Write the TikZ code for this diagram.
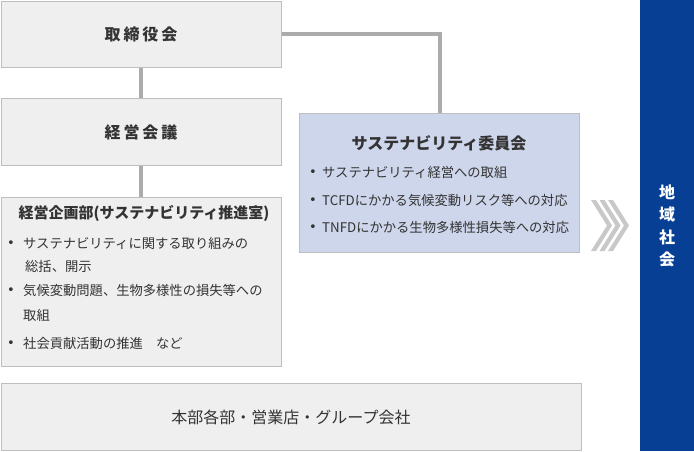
\documentclass[tikz,border=0pt]{standalone}
\usepackage{fontspec}
\usepackage{xcolor}
\setmainfont{Noto Sans CJK JP}
\newfontfamily\jpwide{Noto Sans CJK JP}[LetterSpace=18]
\newfontfamily\dotfont{DejaVu Sans}
\definecolor{boxgray}{HTML}{EFEFEF}
\definecolor{linegray}{HTML}{BEBEBE}
\definecolor{conngray}{HTML}{ABABAB}
\definecolor{commblue}{HTML}{CED6EC}
\definecolor{regionblue}{HTML}{073F95}
\definecolor{chevgray}{HTML}{C8C8C8}
\definecolor{txtgray}{HTML}{333333}

\begin{document}
\begin{tikzpicture}[x=1pt,y=-1pt,
    orgbox/.style={draw=linegray, fill=boxgray, line width=1pt, anchor=north west, inner sep=0pt, text=txtgray},
    conn/.style={draw=conngray, line width=4pt},
    item/.style={anchor=west, inner sep=0pt, text=txtgray, font=\fontsize{13.3}{16}\selectfont},
    dot/.style={anchor=center, inner sep=0pt, text=txtgray, font=\dotfont\fontsize{13}{13}\selectfont}]
\useasboundingbox (0,0) rectangle (694,451);

% boxes
\node [orgbox, minimum width=280pt, minimum height=66.5pt, font=\jpwide\bfseries\fontsize{16}{18}\selectfont] (board) at (0.5,0.5) {取締役会};
\node [orgbox, minimum width=280pt, minimum height=67pt, font=\jpwide\bfseries\fontsize{16}{18}\selectfont] (mgmt) at (0.5,98) {経営会議};
\node [orgbox, minimum width=280pt, minimum height=169.5pt] (plan) at (0.5,196.5) {};
\node [orgbox, fill=commblue, minimum width=280pt, minimum height=139pt] (comm) at (299,113) {};
\node [orgbox, minimum width=580pt, minimum height=67pt, font=\fontsize{16}{18}\selectfont] (group) at (0.5,383) {本部各部・営業店・グループ会社};
\node [anchor=north west, fill=regionblue, inner sep=0pt, minimum width=54pt, minimum height=451pt] (region) at (640,0) {};
\node [text=white, align=center, font=\bfseries\fontsize{16}{22.5}\selectfont] (regiontxt) at (region.center) {地\\域\\社\\会};

% connectors
\draw [conn] (board.south) -- (mgmt.north);
\draw [conn] (mgmt.south) -- (plan.north);
\draw [conn] (board.east) -| (comm.north);

% planning dept
\node [anchor=center, inner sep=0pt, text=txtgray, font=\bfseries\fontsize{15}{18}\selectfont] (plantitle) at (144,213) {経営企画部(サステナビリティ推進室)};
\node [dot] (pd1) at (11,244.5) {•};
\node [item] (p1) at (23,243) {サステナビリティに関する取り組みの};
\node [item] (p1b) at (25,266) {総括、開示};
\node [dot] (pd2) at (11,291.5) {•};
\node [item] (p2) at (23,290) {気候変動問題、生物多様性の損失等への};
\node [item] (p2b) at (23,315) {取組};
\node [dot] (pd3) at (11,344.5) {•};
\node [item] (p3) at (23,343) {社会貢献活動の推進　など};

% committee
\node [anchor=center, inner sep=0pt, text=txtgray, font=\bfseries\fontsize{16}{18}\selectfont] (commtitle) at (439,143) {サステナビリティ委員会};
\node [dot] (cd1) at (313,173.5) {•};
\node [item] (c1) at (322,172) {サステナビリティ経営への取組};
\node [dot] (cd2) at (313,201.5) {•};
\node [item] (c2) at (322,200) {TCFDにかかる気候変動リスク等への対応};
\node [dot] (cd3) at (313,228.5) {•};
\node [item] (c3) at (322,227) {TNFDにかかる生物多様性損失等への対応};

% chevrons
\foreach \o in {591,599.5,608}
  \fill [chevgray] (\o,200) -- (\o+5,200) -- (\o+21,225.5) -- (\o+5,251) -- (\o,251) -- (\o+16,225.5) -- cycle;

\end{tikzpicture}
\end{document}
